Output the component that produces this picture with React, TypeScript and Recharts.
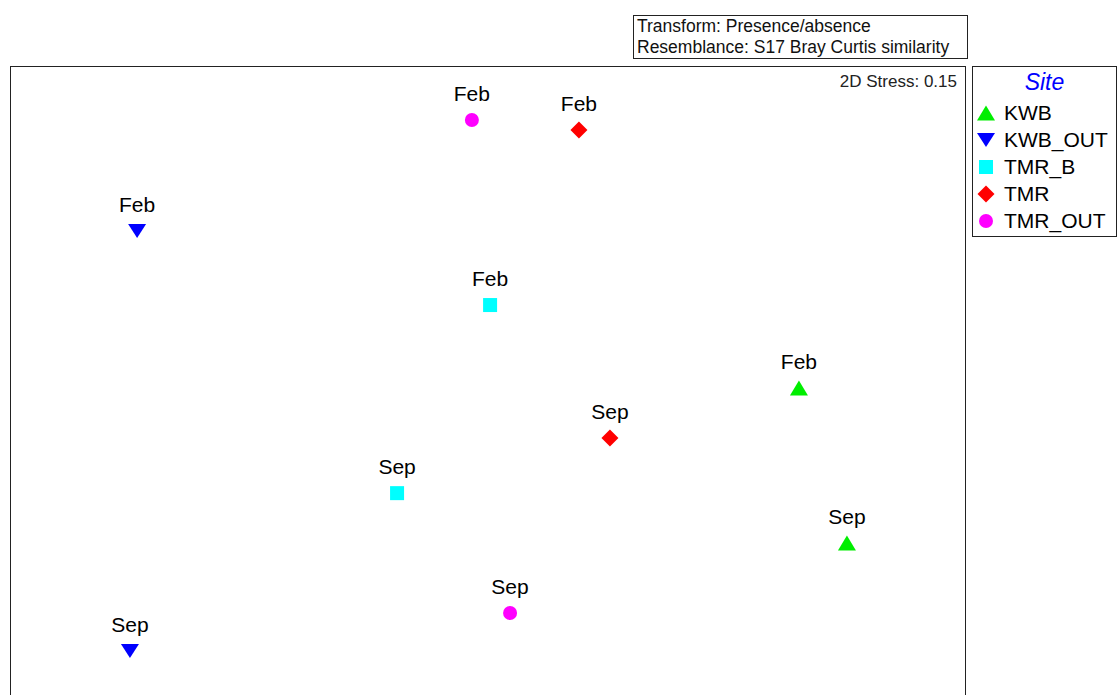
import React from "react";
import { ScatterChart, Scatter, XAxis, YAxis, LabelList } from "recharts";

const sites = ["KWB", "KWB_OUT", "TMR_B", "TMR", "TMR_OUT"];
const months = ["Feb", "Sep"];
const colors = ["#00ee00", "#0000ff", "#00ffff", "#ff0000", "#ff00ff"];
const shapes = ["triUp", "triDown", "square", "diamond", "circle"];
// NMDS coordinates [Feb, Sep] per site
const xKWB = [1.043, 1.204];
const yKWB = [-0.023, -0.542];
const xKWB_OUT = [-1.177, -1.201];
const yKWB_OUT = [0.502, -0.903];
const xTMR_B = [0.007, -0.305];
const yTMR_B = [0.254, -0.375];
const xTMR = [0.305, 0.409];
const yTMR = [0.839, -0.191];
const xTMR_OUT = [-0.054, 0.074];
const yTMR_OUT = [0.873, -0.776];

const xs = [xKWB, xKWB_OUT, xTMR_B, xTMR, xTMR_OUT];
const ys = [yKWB, yKWB_OUT, yTMR_B, yTMR, yTMR_OUT];

const FONT = '"Liberation Sans", Arial, sans-serif';

function Marker({ kind, color, cx, cy }: { kind: string; color: string; cx: number; cy: number }) {
  if (kind === "triUp") {
    return <polygon points={`${cx - 9},${cy + 7.5} ${cx + 9},${cy + 7.5} ${cx},${cy - 7.5}`} fill={color} />;
  }
  if (kind === "triDown") {
    return <polygon points={`${cx - 9},${cy - 7} ${cx + 9},${cy - 7} ${cx},${cy + 7}`} fill={color} />;
  }
  if (kind === "square") {
    return <rect x={cx - 7} y={cy - 7} width={14} height={14} fill={color} />;
  }
  if (kind === "diamond") {
    return <polygon points={`${cx},${cy - 8.5} ${cx + 8.5},${cy} ${cx},${cy + 8.5} ${cx - 8.5},${cy}`} fill={color} />;
  }
  return <circle cx={cx} cy={cy} r={7} fill={color} />;
}

function LegendMarker({ kind, color }: { kind: string; color: string }) {
  return (
    <svg width={20} height={20} style={{ display: "block" }}>
      <Marker kind={kind} color={color} cx={10} cy={10} />
    </svg>
  );
}

export default function App() {
  const series = sites.map((s, i) =>
    months.map((m, j) => ({ x: xs[i][j], y: ys[i][j], label: m }))
  );
  return (
    <div style={{ position: "absolute", left: 0, top: 0, width: 1118, height: 695, overflow: "hidden", background: "#fff", fontFamily: FONT }}>
      <ScatterChart width={1118} height={695} margin={{ top: 67, left: 11, right: 153, bottom: 0 }}>
        <XAxis type="number" dataKey="x" domain={[-1.6, 1.6]} hide />
        <YAxis type="number" dataKey="y" domain={[-1.05, 1.05]} hide />
        {sites.map((s, i) => (
          <Scatter
            key={s}
            name={s}
            data={series[i]}
            isAnimationActive={false}
            shape={(p: any) => <Marker kind={shapes[i]} color={colors[i]} cx={p.cx} cy={p.cy} />}
          >
            <LabelList
              dataKey="label"
              content={(p: any) => (
                <text
                  x={p.x + (p.width || 0) / 2}
                  y={p.y + (p.height || 0) / 2 - 19}
                  textAnchor="middle"
                  fontSize={21}
                  fontFamily={FONT}
                  fill="#000"
                >
                  {p.value}
                </text>
              )}
            />
          </Scatter>
        ))}
      </ScatterChart>
      {/* plot border */}
      <div style={{ position: "absolute", left: 10, top: 66, width: 954, height: 700, border: "1px solid #222" }} />
      <div style={{ position: "absolute", right: 1118 - 957, top: 72, fontSize: 17, color: "#222", whiteSpace: "nowrap" }}>
        2D Stress: 0.15
      </div>
      {/* info box */}
      <div style={{ position: "absolute", left: 633, top: 15, width: 330, height: 42, border: "1px solid #222", fontSize: 17.5, lineHeight: "21px", color: "#111", paddingLeft: 3, boxSizing: "content-box", whiteSpace: "nowrap" }}>
        <div>Transform: Presence/absence</div>
        <div>Resemblance: S17 Bray Curtis similarity</div>
      </div>
      {/* legend */}
      <div style={{ position: "absolute", left: 972, top: 66, width: 143, height: 169, border: "1px solid #222", whiteSpace: "nowrap" }}>
        <div style={{ textAlign: "center", color: "#0000ff", fontStyle: "italic", fontSize: 23, lineHeight: "28px", marginTop: 1, marginBottom: 3 }}>Site</div>
        {sites.map((s, i) => (
          <div key={s} style={{ display: "flex", alignItems: "center", height: 27, marginLeft: 3 }}>
            <LegendMarker kind={shapes[i]} color={colors[i]} />
            <span style={{ fontSize: 21, marginLeft: 8, color: "#000" }}>{s}</span>
          </div>
        ))}
      </div>
    </div>
  );
}
